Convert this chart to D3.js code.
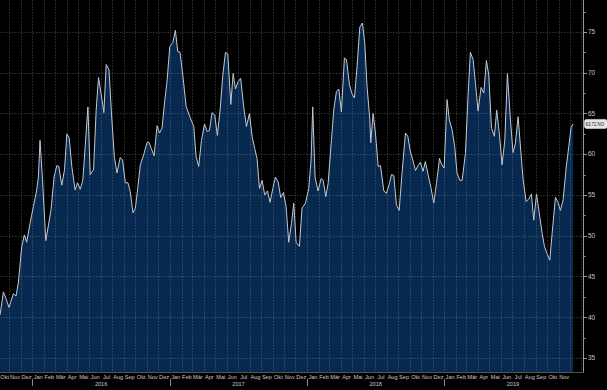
<!DOCTYPE html>
<html><head><meta charset="utf-8">
<script src="https://cdn.jsdelivr.net/npm/d3@7"></script>
<style>html,body{margin:0;padding:0;background:#000;overflow:hidden}</style>
</head><body><svg id="c" width="607" height="390"></svg>
<script>
// Decimal-year timestamps of the (weekly) observations
const times = [2015.765,2015.789,2015.808,2015.830,2015.862,2015.881,2015.898,2015.923,2015.942,2015.959,2015.983,
2016.008,2016.032,2016.044,2016.056,2016.073,2016.098,2016.117,2016.136,2016.158,2016.178,2016.192,2016.214,2016.234,
2016.251,2016.268,2016.287,2016.311,2016.328,2016.348,2016.367,2016.384,2016.404,2016.421,2016.445,2016.464,2016.481,
2016.501,2016.520,2016.537,2016.557,2016.574,2016.596,2016.615,2016.639,2016.656,2016.676,2016.695,2016.712,2016.732,
2016.749,2016.766,2016.785,2016.809,2016.833,2016.846,2016.865,2016.885,2016.907,2016.924,2016.943,2016.962,2016.979,
2016.999,2017.021,2017.040,2017.057,2017.074,2017.094,2017.118,2017.145,2017.174,2017.191,2017.210,2017.230,2017.252,
2017.271,2017.288,2017.307,2017.327,2017.346,2017.368,2017.385,2017.405,2017.422,2017.444,2017.461,2017.478,2017.497,
2017.516,2017.538,2017.558,2017.580,2017.599,2017.618,2017.635,2017.653,2017.672,2017.691,2017.711,2017.730,2017.750,
2017.769,2017.789,2017.808,2017.827,2017.847,2017.866,2017.886,2017.903,2017.920,2017.944,2017.963,2017.988,
2018.012,2018.029,2018.041,2018.058,2018.080,2018.102,2018.117,2018.136,2018.153,2018.170,2018.194,2018.214,2018.231,
2018.250,2018.272,2018.287,2018.309,2018.328,2018.345,2018.364,2018.384,2018.403,2018.420,2018.437,2018.457,2018.464,
2018.481,2018.498,2018.518,2018.535,2018.559,2018.578,2018.600,2018.615,2018.632,2018.651,2018.671,2018.690,2018.717,
2018.734,2018.753,2018.770,2018.790,2018.809,2018.826,2018.845,2018.862,2018.882,2018.904,2018.923,2018.943,2018.965,
2018.979,2018.999,2019.020,2019.037,2019.057,2019.076,2019.093,2019.113,2019.130,2019.154,2019.173,2019.190,2019.210,
2019.227,2019.246,2019.268,2019.288,2019.307,2019.324,2019.344,2019.365,2019.382,2019.402,2019.421,2019.441,2019.460,
2019.482,2019.501,2019.518,2019.538,2019.557,2019.574,2019.596,2019.616,2019.635,2019.652,2019.672,2019.693,2019.713,
2019.730,2019.749,2019.769,2019.786,2019.810,2019.829,2019.846,2019.866,2019.888,2019.907,2019.924,2019.939];

const values = [40.3,43.1,42.3,41.2,42.9,42.6,44.2,48.7,50.1,49.2,51.5,
53.6,55.6,57.2,61.7,57.2,49.4,51.3,53.2,57.2,58.6,58.5,56.2,58.1,
62.5,62.0,58.5,55.6,56.5,55.7,56.8,60.9,65.8,57.5,58.1,65.4,69.4,
67.3,65.1,71.0,70.4,65.4,59.7,57.7,59.6,59.3,56.5,56.5,55.4,52.8,
53.4,55.8,58.7,59.9,61.4,61.5,60.7,59.8,63.5,62.6,63.2,66.5,68.9,
73.2,73.7,75.2,72.6,72.5,69.7,65.9,64.6,63.4,59.7,58.5,61.7,63.7,
62.8,62.9,65.1,64.8,62.3,65.8,69.6,72.5,72.3,66.1,69.9,68.0,68.9,
69.3,65.8,63.4,65.0,62.2,60.7,59.5,55.8,56.8,55.0,55.5,54.1,55.8,
57.2,56.6,54.7,55.3,53.6,49.2,51.5,54.0,49.2,48.7,53.4,54.0,
55.8,59.3,65.8,57.2,55.5,57.0,56.8,54.8,56.4,60.1,65.4,67.7,68.0,
65.2,71.8,71.6,68.5,67.4,66.9,70.7,75.6,76.1,73.7,68.3,64.3,61.4,
65.0,62.6,58.5,58.6,55.5,55.2,56.4,57.5,57.4,53.8,53.1,57.3,62.6,
62.2,60.3,59.3,58.0,58.6,59.0,57.9,59.1,57.5,55.8,54.0,56.4,59.5,
58.8,58.3,66.7,64.2,63.0,60.9,57.7,56.8,56.8,60.1,67.1,72.5,71.6,
68.7,65.3,68.2,67.5,71.5,69.7,63.2,62.2,65.4,62.4,58.7,61.7,69.9,
64.2,60.2,61.3,64.6,60.5,57.0,54.2,54.5,55.1,51.9,55.1,52.7,50.3,
48.7,47.8,47.0,50.3,54.7,54.1,53.1,54.4,58.3,60.9,63.3,63.72];

const monthNames = ["Jan","Feb","Mär","Apr","Mai","Jun","Jul","Aug","Sep","Okt","Nov","Dez"];
const yMajor = [35,40,45,50,55,60,65,70,75];
const yMinor = [37.5,42.5,47.5,52.5,57.5,62.5,67.5,72.5,77.5];
const years = [2016,2017,2018,2019];
const lastLabel = "63.72 NO";

function decToDate(t){
  const y = Math.floor(t);
  const s = Date.UTC(y,0,1), e = Date.UTC(y+1,0,1);
  return new Date(s + (t - y) * (e - s));
}
const data = times.map((t,i)=>({d:decToDate(t), v:values[i]}));

const W = 583, H = 372;
const x = d3.scaleUtc().domain([new Date(Date.UTC(2015,9,7)), new Date(Date.UTC(2020,0,5))]).range([0, W]);
const y = d3.scaleLinear().domain([33.28, 78.92]).range([H, 0]);

const svg = d3.select("#c");
svg.append("rect").attr("width",607).attr("height",390).attr("fill","#000");

const g = svg.append("g");

// area
g.append("path").datum(data)
  .attr("fill","#072950")
  .attr("d", d3.area().x(d=>x(d.d)).y0(H).y1(d=>y(d.v)));

// gridlines on top
const gridColor = "rgba(150,155,165,0.33)";
const months = d3.utcMonth.range(x.domain()[0], x.domain()[1]);
g.selectAll(".vg").data(months).join("line")
  .attr("x1", d=>Math.round(x(d))+0.5).attr("x2", d=>Math.round(x(d))+0.5)
  .attr("y1",0).attr("y2",H)
  .attr("stroke",gridColor).attr("stroke-dasharray","1.5,1.5");
g.selectAll(".hg").data(yMajor).join("line")
  .attr("x1",0).attr("x2",W)
  .attr("y1", d=>Math.round(y(d))+0.5).attr("y2", d=>Math.round(y(d))+0.5)
  .attr("stroke",gridColor).attr("stroke-dasharray","1.5,1.5");

// line
g.append("path").datum(data)
  .attr("fill","none").attr("stroke","#c3c9d0").attr("stroke-width",1)
  .attr("d", d3.line().x(d=>x(d.d)).y(d=>y(d.v)));

// right axis
const axisColor = "#9a9a9a";
svg.append("line").attr("x1",W+0.5).attr("x2",W+0.5).attr("y1",0).attr("y2",H+0.5)
  .attr("stroke",axisColor);
svg.append("line").attr("x1",0).attr("x2",W+0.5).attr("y1",H+0.5).attr("y2",H+0.5)
  .attr("stroke","#555");
svg.selectAll(".mt").data(yMajor).join("line")
  .attr("x1",W).attr("x2",W+4)
  .attr("y1", d=>Math.round(y(d))+0.5).attr("y2", d=>Math.round(y(d))+0.5)
  .attr("stroke",axisColor);
svg.selectAll(".nt").data(yMinor).join("line")
  .attr("x1",W).attr("x2",W+2.5)
  .attr("y1", d=>Math.round(y(d))+0.5).attr("y2", d=>Math.round(y(d))+0.5)
  .attr("stroke",axisColor);
svg.selectAll(".yl").data(yMajor).join("text")
  .attr("x",W+5).attr("y", d=>y(d)).attr("dy","0.35em")
  .attr("fill","#c4c4c4").attr("font-family","Liberation Sans, Arial, sans-serif")
  .attr("font-size",6.5).text(d=>d);

// last value tag
const last = data[data.length-1];
svg.append("rect").attr("x",W+1.5).attr("y", y(last.v)-4.5).attr("width",22.5).attr("height",9)
  .attr("rx",2).attr("fill","#e6e6e6").attr("stroke","#fff").attr("stroke-width",0.5);
svg.append("text").attr("x",W+2.5).attr("y", y(last.v)).attr("dy","0.35em")
  .attr("fill","#111").attr("font-family","Liberation Sans, Arial, sans-serif")
  .attr("font-size",5).attr("textLength",18.5).attr("lengthAdjust","spacingAndGlyphs")
  .text(lastLabel);

// month labels
const [d0, d1] = x.domain();
const monthStarts = [new Date(Date.UTC(2015,9,1))].concat(d3.utcMonth.range(new Date(Date.UTC(2015,10,1)), new Date(Date.UTC(2019,11,1))));
svg.selectAll(".ml").data(monthStarts).join("text")
  .attr("x", d=>{
    const a = Math.max(+d, +d0), b = Math.min(+d3.utcMonth.offset(d,1), +d1);
    return (x(new Date(a)) + x(new Date(b)))/2;
  })
  .attr("y",378.5).attr("text-anchor","middle")
  .attr("fill","#c8c8c8").attr("font-family","Liberation Sans, Arial, sans-serif")
  .attr("font-size",5.6).text(d=>monthNames[d.getUTCMonth()]);

// year separators and labels
svg.selectAll(".ys").data(years).join("line")
  .attr("x1", d=>Math.round(x(new Date(Date.UTC(d,0,1))))+0.5)
  .attr("x2", d=>Math.round(x(new Date(Date.UTC(d,0,1))))+0.5)
  .attr("y1",379).attr("y2",386).attr("stroke","#888");
svg.selectAll(".yr").data(years).join("text")
  .attr("x", d=>(x(new Date(Date.UTC(d,0,1))) + x(new Date(Date.UTC(d+1,0,1))))/2)
  .attr("y",385.5).attr("text-anchor","middle")
  .attr("fill","#c8c8c8").attr("font-family","Liberation Sans, Arial, sans-serif")
  .attr("font-size",5.6).text(d=>d);
</script>
</body></html>
